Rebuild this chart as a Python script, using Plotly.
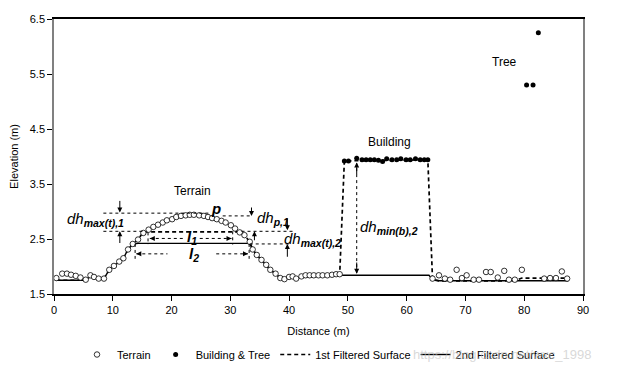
import plotly.graph_objects as go

# ---------------- data ----------------
terrain_x = [0.4, 1.4, 2.2, 2.9, 3.7, 4.5, 5.4, 6.2, 6.8, 7.6, 8.5, 9.4, 10.2, 11.1, 11.8,
             12.6, 13.4, 14.3, 15.2, 16.1, 16.9, 17.7, 18.5, 19.2, 20.1, 20.8, 21.6, 22.4,
             23.1, 23.8, 24.7, 25.5, 26.2, 26.9, 27.7, 28.5, 29.2, 30.1, 30.8, 31.6, 32.4,
             33.3, 33.8, 34.5, 35.3, 36.1, 36.8, 37.7, 38.5, 39.2, 40.0, 40.6, 41.2, 42.1,
             42.8, 43.5, 44.2, 45.0, 45.7, 46.5, 47.3, 48.0, 48.6, 64.4, 65.5, 66.5, 67.4,
             68.5, 69.4, 70.2, 71.4, 72.3, 73.5, 74.3, 75.5, 76.6, 77.4, 78.4, 79.6, 83.4,
             84.4, 85.4, 86.4, 87.3]
terrain_y = [1.79, 1.87, 1.87, 1.85, 1.83, 1.80, 1.76, 1.84, 1.81, 1.78, 1.78, 1.94, 2.01, 2.09, 2.15,
             2.31, 2.41, 2.49, 2.61, 2.67, 2.72, 2.76, 2.80, 2.84, 2.86, 2.90, 2.92, 2.93,
             2.94, 2.94, 2.93, 2.92, 2.90, 2.88, 2.86, 2.83, 2.80, 2.75, 2.69, 2.62, 2.57,
             2.45, 2.31, 2.21, 2.12, 2.03, 1.94, 1.87, 1.79, 1.77, 1.81, 1.82, 1.78, 1.82,
             1.84, 1.84, 1.84, 1.84, 1.84, 1.84, 1.85, 1.86, 1.86, 1.78, 1.84, 1.78, 1.76,
             1.94, 1.79, 1.84, 1.76, 1.76, 1.90, 1.90, 1.80, 1.92, 1.76, 1.76, 1.94, 1.78,
             1.79, 1.79, 1.91, 1.78]

bt_x = [49.4, 50.1, 51.5, 52.4, 53.1, 53.8, 54.5, 55.2, 55.9, 56.6, 57.5, 58.3, 59.0, 59.9,
        60.6, 61.5, 62.3, 63.0, 63.6, 80.4, 81.5, 82.4]
bt_y = [3.92, 3.92, 3.97, 3.94, 3.94, 3.94, 3.94, 3.93, 3.91, 3.96, 3.94, 3.94, 3.96, 3.94,
        3.94, 3.96, 3.94, 3.94, 3.94, 5.30, 5.30, 6.25]

f1_x = [0.4, 5.4, 6.2, 6.8, 7.6, 8.5, 9.4, 10.2, 11.1, 11.8, 12.6, 13.4, 14.3, 15.2, 31.6,
        32.4, 33.3, 33.8, 34.5, 35.3, 36.1, 36.8, 37.7, 38.5, 39.2, 40.0, 40.6, 41.2, 42.1,
        48.6, 49.4, 63.6, 64.4, 65.5, 78.4, 79.6, 87.3]
f1_y = [1.75, 1.75, 1.82, 1.80, 1.78, 1.78, 1.94, 2.01, 2.09, 2.15, 2.31, 2.41, 2.49, 2.63, 2.63,
        2.57, 2.45, 2.31, 2.21, 2.12, 2.03, 1.94, 1.87, 1.79, 1.77, 1.80, 1.81, 1.78, 1.81,
        1.84, 3.92, 3.94, 1.76, 1.74, 1.74, 1.79, 1.79]

f2_x = [0.4, 5.4, 6.2, 6.8, 7.6, 8.5, 9.4, 10.2, 11.1, 11.8, 12.6, 13.4, 14.3, 33.3, 33.8,
        34.5, 35.3, 36.1, 36.8, 37.7, 38.5, 39.2, 40.0, 40.6, 41.2, 42.1, 48.6, 63.8, 64.4,
        65.5, 87.5]
f2_y = [1.75, 1.75, 1.82, 1.80, 1.78, 1.78, 1.94, 2.01, 2.09, 2.15, 2.31, 2.41, 2.42, 2.42, 2.31,
        2.21, 2.12, 2.03, 1.94, 1.87, 1.79, 1.77, 1.80, 1.81, 1.78, 1.81, 1.84, 1.84, 1.76,
        1.74, 1.74]

x_ticks = [0, 10, 20, 30, 40, 50, 60, 70, 80, 90]
y_ticks = [1.5, 2.5, 3.5, 4.5, 5.5, 6.5]

# annotation layout (schematic markup)
dotted_lines = [  # x0, y0, x1, y1
    (8.4, 2.97, 26.5, 2.97), (28.7, 2.92, 33.8, 2.92), (8.4, 2.64, 15.2, 2.64),
    (31.9, 2.64, 40.6, 2.64), (33.3, 2.41, 40.1, 2.41),
    (16.0, 2.62, 16.0, 2.40), (30.4, 2.64, 30.4, 2.40),
    (13.8, 2.41, 13.8, 2.14), (33.2, 2.41, 33.2, 2.14),
    (16.3, 2.51, 22.0, 2.51), (24.8, 2.51, 30.2, 2.51),
    (14.0, 2.23, 19.3, 2.23), (27.6, 2.23, 33.0, 2.23),
    (51.5, 1.88, 51.5, 3.88),
]
arrows = [  # head x, head y, tail x, tail y
    (11.2, 2.98, 11.2, 3.22), (11.2, 2.64, 11.2, 2.40),
    (33.6, 2.92, 33.6, 3.10), (34.1, 2.64, 34.1, 2.45),
    (39.7, 2.66, 39.7, 2.90), (39.7, 2.41, 39.7, 2.15),
    (16.3, 2.51, 17.3, 2.51), (30.2, 2.51, 29.2, 2.51),
    (14.0, 2.23, 15.0, 2.23), (33.0, 2.23, 32.0, 2.23),
    (51.5, 3.89, 51.5, 3.65), (51.5, 1.87, 51.5, 2.10),
]
labels = [  # x, y, text, size
    (23.5, 3.38, "Terrain", 12),
    (57.0, 4.27, "Building", 12),
    (76.6, 5.72, "Tree", 12),
    (27.6, 3.06, "<b><i>p</i></b>", 15),
    (7.0, 2.86, "<i>dh</i><sub><b><i>max(t),1</i></b></sub>", 15),
    (37.3, 2.87, "<i>dh</i><sub><b><i>p,1</i></b></sub>", 15),
    (44.0, 2.50, "<i>dh</i><sub><b><i>max(t),2</i></b></sub>", 15),
    (57.0, 2.71, "<i>dh</i><sub><b><i>min(b),2</i></b></sub>", 15),
    (23.4, 2.53, "<b><i>l</i></b><sub><b><i>1</i></b></sub>", 15),
    (23.9, 2.22, "<b><i>l</i></b><sub><b><i>2</i></b></sub>", 15),
]

# ---------------- figure ----------------
FONT = "Liberation Sans, Arial, sans-serif"
fig = go.Figure()
fig.add_trace(go.Scatter(x=f1_x, y=f1_y, mode="lines", name="1st Filtered Surface",
                         line=dict(color="black", width=1.7, dash="4px,3px"), legendrank=3))
fig.add_trace(go.Scatter(x=f2_x, y=f2_y, mode="lines", name="2nd Filtered Surface",
                         line=dict(color="black", width=1.4), legendrank=4))
fig.add_trace(go.Scatter(x=terrain_x, y=terrain_y, mode="markers", name="Terrain",
                         marker=dict(symbol="circle", size=5.5, color="white",
                                     line=dict(color="black", width=0.8)), legendrank=1))
fig.add_trace(go.Scatter(x=bt_x, y=bt_y, mode="markers", name="Building & Tree",
                         marker=dict(symbol="circle", size=5, color="black"), legendrank=2))

for x0, y0, x1, y1 in dotted_lines:
    fig.add_shape(type="line", x0=x0, y0=y0, x1=x1, y1=y1, xref="x", yref="y",
                  line=dict(color="black", width=1, dash="dot"))
for hx, hy, tx, ty in arrows:
    fig.add_annotation(x=hx, y=hy, ax=tx, ay=ty, xref="x", yref="y", axref="x", ayref="y",
                       text="", showarrow=True, arrowhead=2, arrowsize=1, arrowwidth=1,
                       arrowcolor="black")
for x, y, t, s in labels:
    fig.add_annotation(x=x, y=y, text=t, showarrow=False, xref="x", yref="y",
                       font=dict(family=FONT, size=s, color="black"))

fig.add_annotation(x=1.02, y=-0.22, xref="paper", yref="paper", xanchor="right", yanchor="middle",
                   text="https://blog.csdn.net/wxc_1998", showarrow=False,
                   font=dict(family=FONT, size=13, color="rgba(190,190,190,0.6)"))

# the page has an 8 px body margin, so the figure is drawn 8 px right/down
fig.update_layout(
    width=611, height=366,
    margin=dict(l=46, r=36, t=11, b=80, autoexpand=False),
    paper_bgcolor="white", plot_bgcolor="white",
    font=dict(family=FONT, size=11, color="black"),
    showlegend=True,
    legend=dict(orientation="h", x=0.5, xanchor="center", y=-0.22, yanchor="middle",
                font=dict(family=FONT, size=11), itemwidth=30, tracegroupgap=0,
                bgcolor="rgba(0,0,0,0)"),
)
fig.update_xaxes(range=[0, 90], tickvals=x_ticks, ticktext=[str(v) for v in x_ticks],
                 showgrid=False, zeroline=False, showline=True, linecolor="black", linewidth=2,
                 mirror=True, ticks="outside", ticklen=5, tickcolor="black", automargin=False,
                 title=dict(text="Distance (m)", standoff=12, font=dict(size=11)))
fig.update_yaxes(range=[1.5, 6.5], tickvals=y_ticks, ticktext=[str(v) for v in y_ticks],
                 showgrid=False, zeroline=False, showline=True, linecolor="#808080", linewidth=1.5,
                 mirror=True, ticks="outside", ticklen=5, tickcolor="black", automargin=False,
                 title=dict(text="Elevation (m)", standoff=10, font=dict(size=11)))

fig.write_html("out.html")
